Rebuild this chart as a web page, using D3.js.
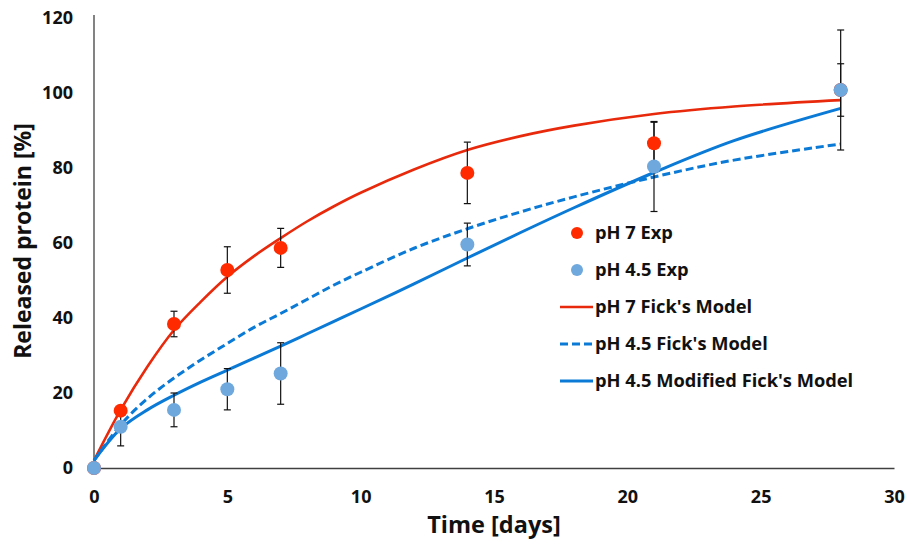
<!DOCTYPE html>
<html>
<head>
<meta charset="utf-8">
<script src="https://cdn.jsdelivr.net/npm/d3@7"></script>
<style>
  html, body { margin: 0; padding: 0; background: #fff; }
  svg text { font-family: "Open Sans", Lato, sans-serif; font-weight: bold; fill: #111; }
</style>
</head>
<body>
<div id="chart"></div>
<script>
// experimental sampling days and measured release
const days = [0, 1, 3, 5, 7, 14, 21, 28];
const ph7Exp = [0, 15.3, 38.4, 52.8, 58.7, 78.7, 86.6, 100.8];
const ph7Err = [0, 1, 3.4, 6.2, 5.2, 8.2, 5.6, 7];
const ph45Exp = [0, 11, 15.5, 21, 25.2, 59.6, 80.4, 100.8];
const ph45Err = [0, 5.1, 4.5, 5.5, 8.2, 5.7, 12, 16];

// model curves
const modelDays = [0, 1, 2, 3, 4, 5, 6, 7, 8, 9, 10, 12, 14, 16, 18, 21, 24, 28];
const ph7Fick = [2, 15.5, 27, 36.8, 44.3, 51, 56.5, 61.3, 65.8, 69.8, 73.4, 79.6, 84.8, 88.5, 91.3, 94.4, 96.4, 98.1];
const ph45Fick = [2, 11.5, 18.5, 24, 28.8, 33.2, 37.5, 41.2, 45, 48.8, 52.2, 58.6, 63.8, 68.3, 72.3, 77.6, 82.1, 86.4];
const ph45Mod = [2, 10.5, 15.5, 19.4, 22.9, 26.1, 29.3, 32.5, 35.8, 39.1, 42.4, 49.1, 56, 62.8, 69.4, 78.8, 87.3, 95.9];

const xTicks = [0, 5, 10, 15, 20, 25, 30];
const yTicks = [0, 20, 40, 60, 80, 100, 120];

const legendLabels = ["pH 7 Exp", "pH 4.5 Exp", "pH 7 Fick's Model", "pH 4.5 Fick's Model", "pH 4.5 Modified Fick's Model"];

const red = "#ff2a00", redLine = "#e8290b", lightBlue = "#6fa8dc", blue = "#0a7ad6";

function drawChart() {
    let width = 908, height = 541;
    let margin = {left: 94, right: 14, top: 18, bottom: 73};

    let svg = d3.select("#chart")
        .append("svg")
        .attr("width", width)
        .attr("height", height);

    svg.append("rect").attr("width", width).attr("height", height).attr("fill", "#fff");

    let x = d3.scaleLinear().domain([0, 30]).range([margin.left, width - margin.right]);
    let y = d3.scaleLinear().domain([0, 120]).range([height - margin.bottom, margin.top]);

    // axes (no tick marks, just labels)
    let xAxis = svg.append("g")
        .attr("transform", "translate(0," + y(0) + ")")
        .call(d3.axisBottom(x).tickValues(xTicks).tickSize(0));
    let yAxis = svg.append("g")
        .attr("transform", "translate(" + x(0) + ",0)")
        .call(d3.axisLeft(y).tickValues(yTicks).tickSize(0).tickPadding(21));

    [xAxis, yAxis].forEach(function (g) {
        g.select(".domain").attr("stroke", "#404040").attr("stroke-width", 1.3);
        g.selectAll("text").style("font-size", "18px").attr("fill", "#111");
    });
    yAxis.select(".domain").attr("d", "M0," + (y(120) - 3) + "V" + y(0));
    xAxis.selectAll("text").attr("dy", "0.35em").attr("y", 29);

    // axis titles
    svg.append("text")
        .attr("x", x(15))
        .attr("y", 533)
        .attr("text-anchor", "middle")
        .style("font-size", "23.5px")
        .text("Time [days]");
    svg.append("text")
        .attr("transform", "translate(31,241) rotate(-90)")
        .attr("text-anchor", "middle")
        .style("font-size", "23px")
        .text("Released protein [%]");

    // model lines
    let line = d3.line()
        .x(function (d) { return x(d[0]); })
        .y(function (d) { return y(d[1]); })
        .curve(d3.curveCatmullRom.alpha(0.5));

    let models = [
        {vals: ph7Fick, color: redLine, w: 2.6, dash: null},
        {vals: ph45Fick, color: blue, w: 3, dash: "8,4"},
        {vals: ph45Mod, color: blue, w: 3, dash: null}
    ];
    models.forEach(function (m) {
        svg.append("path")
            .datum(modelDays.map(function (t, i) { return [t, m.vals[i]]; }))
            .attr("d", line)
            .attr("fill", "none")
            .attr("stroke", m.color)
            .attr("stroke-width", m.w)
            .attr("stroke-dasharray", m.dash);
    });

    // error bars then markers
    let series = [
        {vals: ph7Exp, err: ph7Err, color: red},
        {vals: ph45Exp, err: ph45Err, color: lightBlue}
    ];
    series.forEach(function (s) {
        let g = svg.append("g").attr("stroke", "#111").attr("stroke-width", 1.2);
        days.forEach(function (t, i) {
            if (!s.err[i]) return;
            let cx = x(t), lo = y(s.vals[i] - s.err[i]), hi = y(s.vals[i] + s.err[i]);
            g.append("line").attr("x1", cx).attr("x2", cx).attr("y1", lo).attr("y2", hi);
            g.append("line").attr("x1", cx - 3.5).attr("x2", cx + 3.5).attr("y1", lo).attr("y2", lo);
            g.append("line").attr("x1", cx - 3.5).attr("x2", cx + 3.5).attr("y1", hi).attr("y2", hi);
        });
    });
    series.forEach(function (s) {
        svg.selectAll(null)
            .data(days.map(function (t, i) { return [t, s.vals[i]]; }))
            .enter()
            .append("circle")
            .attr("cx", function (d) { return x(d[0]); })
            .attr("cy", function (d) { return y(d[1]); })
            .attr("r", 7)
            .attr("fill", s.color);
    });

    // legend
    let legend = svg.append("g").attr("transform", "translate(560,233)");
    let symbols = [
        {type: "dot", color: red},
        {type: "dot", color: lightBlue},
        {type: "line", color: redLine, dash: null, w: 2.6},
        {type: "line", color: blue, dash: "8,4", w: 3},
        {type: "line", color: blue, dash: null, w: 3}
    ];
    legendLabels.forEach(function (lab, i) {
        let row = legend.append("g").attr("transform", "translate(0," + (i * 37) + ")");
        let sym = symbols[i];
        if (sym.type === "dot") {
            row.append("circle").attr("cx", 17).attr("cy", 0).attr("r", 6).attr("fill", sym.color);
        } else {
            row.append("line").attr("x1", 0).attr("x2", 33).attr("y1", 0).attr("y2", 0)
                .attr("stroke", sym.color).attr("stroke-width", sym.w).attr("stroke-dasharray", sym.dash);
        }
        row.append("text").attr("x", 35).attr("y", 0).attr("dy", "0.35em")
            .style("font-size", "18.3px").text(lab);
    });
}

drawChart();
</script>
</body>
</html>
